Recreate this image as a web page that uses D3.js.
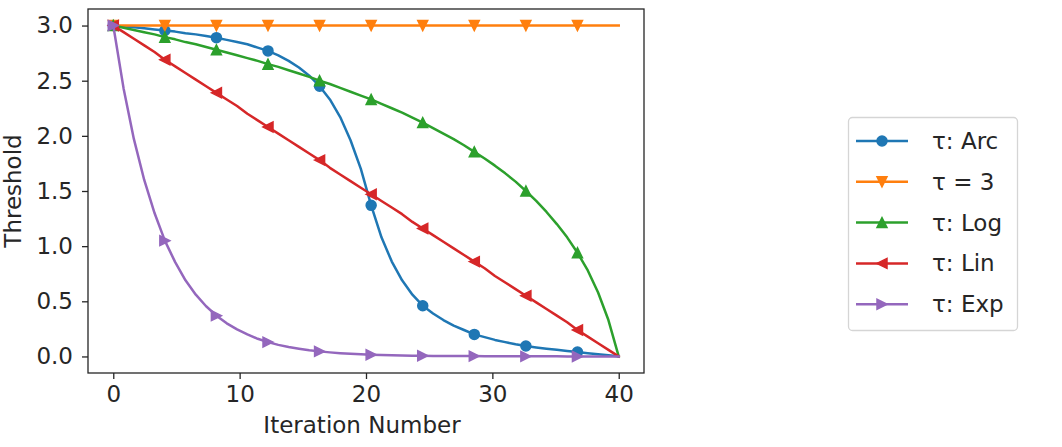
<!DOCTYPE html>
<html lang="en">
  <head>
    <meta charset="utf-8"/>
    <title>Threshold schedules</title>
    <script src="https://cdn.jsdelivr.net/npm/d3@7"></script>
    <style>
      body { margin: 0; background: #fff; }
      text { font-family: "DejaVu Sans", sans-serif; fill: #262626; }
    </style>
  </head>
  <body>
    <div id="chart"></div>
    <script type="text/javascript">

      // iteration numbers (50 samples from 0 to 40)
      var iterations = [0, 0.816, 1.633, 2.449, 3.265, 4.082, 4.898, 5.714, 6.531, 7.347,
        8.163, 8.980, 9.796, 10.612, 11.429, 12.245, 13.061, 13.878, 14.694, 15.510,
        16.327, 17.143, 17.959, 18.776, 19.592, 20.408, 21.224, 22.041, 22.857, 23.673,
        24.490, 25.306, 26.122, 26.939, 27.755, 28.571, 29.388, 30.204, 31.020, 31.837,
        32.653, 33.469, 34.286, 35.102, 35.918, 36.735, 37.551, 38.367, 39.184, 40];

      // threshold values
      var arcValues = [3.00, 2.99, 2.985, 2.975, 2.965, 2.955, 2.945, 2.93, 2.92, 2.905,
        2.89, 2.87, 2.85, 2.83, 2.80, 2.77, 2.73, 2.68, 2.62, 2.545,
        2.45, 2.33, 2.17, 1.96, 1.70, 1.37, 1.08, 0.86, 0.69, 0.56,
        0.46, 0.39, 0.33, 0.28, 0.24, 0.20, 0.175, 0.15, 0.13, 0.11,
        0.095, 0.082, 0.07, 0.06, 0.05, 0.04, 0.03, 0.02, 0.01, 0];
      var constValues = [3, 3, 3, 3, 3, 3, 3, 3, 3, 3, 3, 3, 3, 3, 3, 3, 3, 3, 3, 3, 3, 3, 3, 3, 3,
        3, 3, 3, 3, 3, 3, 3, 3, 3, 3, 3, 3, 3, 3, 3, 3, 3, 3, 3, 3, 3, 3, 3, 3, 3];
      var logValues = [3.00, 2.98, 2.96, 2.94, 2.92, 2.895, 2.875, 2.85, 2.83, 2.805,
        2.78, 2.755, 2.73, 2.705, 2.68, 2.65, 2.625, 2.595, 2.565, 2.535,
        2.50, 2.47, 2.435, 2.40, 2.365, 2.33, 2.29, 2.25, 2.21, 2.165,
        2.12, 2.07, 2.02, 1.97, 1.915, 1.855, 1.795, 1.73, 1.66, 1.585,
        1.50, 1.41, 1.31, 1.20, 1.08, 0.94, 0.78, 0.58, 0.33, 0];
      var linValues = [3.00, 2.94, 2.88, 2.82, 2.76, 2.69, 2.63, 2.57, 2.51, 2.45,
        2.39, 2.33, 2.27, 2.20, 2.14, 2.08, 2.02, 1.96, 1.90, 1.84,
        1.78, 1.71, 1.65, 1.59, 1.53, 1.47, 1.41, 1.35, 1.29, 1.22,
        1.16, 1.10, 1.04, 0.98, 0.92, 0.86, 0.80, 0.73, 0.67, 0.61,
        0.55, 0.49, 0.43, 0.37, 0.31, 0.24, 0.18, 0.12, 0.06, 0];
      var expValues = [3.00, 2.43, 1.97, 1.60, 1.30, 1.05, 0.855, 0.69, 0.56, 0.455,
        0.37, 0.30, 0.245, 0.20, 0.16, 0.13, 0.105, 0.086, 0.07, 0.056,
        0.046, 0.037, 0.03, 0.024, 0.02, 0.016, 0.013, 0.011, 0.009, 0.007,
        0.006, 0.005, 0.004, 0.004, 0.003, 0.003, 0.002, 0.002, 0.002, 0.001,
        0.001, 0.001, 0.001, 0.001, 0, 0, 0, 0, 0, 0];

      var seriesNames = ["\u03c4: Arc", "\u03c4 = 3", "\u03c4: Log", "\u03c4: Lin", "\u03c4: Exp"];
      var seriesValues = [arcValues, constValues, logValues, linValues, expValues];
      var seriesColours = ["#1f77b4", "#ff7f0e", "#2ca02c", "#d62728", "#9467bd"];
      var seriesMarkers = ["circle", "down", "up", "left", "right"];

      var xTicks = [0, 10, 20, 30, 40];
      var yTicks = [0, 0.5, 1, 1.5, 2, 2.5, 3];
      var markEvery = 5;

      var w = 1062;
      var h = 447;
      var plot = { left: 88, right: 644, top: 9, bottom: 373 };

      var svg = d3.select("#chart")
        .append("svg")
        .attr("width", w)
        .attr("height", h)
      ;

      var x = d3.scaleLinear().domain([-2, 42]).range([plot.left, plot.right]);
      var y = d3.scaleLinear().domain([-0.15, 3.15]).range([plot.bottom, plot.top]);

      // marker shapes, r is half the marker size
      function markerPath(kind, r) {
        if (kind == "circle") {
          return "M" + r + ",0A" + r + "," + r + " 0 1,1 " + (-r) + ",0A" + r + "," + r + " 0 1,1 " + r + ",0Z";
        }
        var pts;
        if (kind == "up") pts = [[0, -r], [-r, r], [r, r]];
        if (kind == "down") pts = [[0, r], [-r, -r], [r, -r]];
        if (kind == "left") pts = [[-r, 0], [r, -r], [r, r]];
        if (kind == "right") pts = [[r, 0], [-r, -r], [-r, r]];
        return "M" + pts.join("L") + "Z";
      }

      // axes
      svg.append("g")
        .attr("transform", "translate(0," + plot.bottom + ")")
        .call(d3.axisBottom(x).tickValues(xTicks).tickSize(6).tickPadding(7))
        .call(function(g) { g.select(".domain").remove(); })
        .call(function(g) { g.selectAll("line").attr("stroke", "#262626").attr("stroke-width", 1.3); })
        .call(function(g) { g.selectAll("text").attr("font-size", 23).attr("font-family", "DejaVu Sans").attr("fill", "#262626"); })
      ;
      svg.append("g")
        .attr("transform", "translate(" + plot.left + ",0)")
        .call(d3.axisLeft(y).tickValues(yTicks).tickFormat(d3.format(".1f")).tickSize(6).tickPadding(9))
        .call(function(g) { g.select(".domain").remove(); })
        .call(function(g) { g.selectAll("line").attr("stroke", "#262626").attr("stroke-width", 1.3); })
        .call(function(g) { g.selectAll("text").attr("font-size", 23).attr("font-family", "DejaVu Sans").attr("fill", "#262626"); })
      ;

      // clip lines to the plot box
      svg.append("clipPath").attr("id", "clip")
        .append("rect")
        .attr("x", plot.left).attr("y", plot.top)
        .attr("width", plot.right - plot.left).attr("height", plot.bottom - plot.top)
      ;

      var line = d3.line()
        .x(function(d) { return x(d[0]); })
        .y(function(d) { return y(d[1]); })
      ;

      var plotGroup = svg.append("g").attr("clip-path", "url(#clip)");

      seriesValues.forEach(function(values, s) {
        var pts = values.map(function(v, i) { return [iterations[i], v]; });
        plotGroup.append("path")
          .attr("d", line(pts))
          .attr("fill", "none")
          .attr("stroke", seriesColours[s])
          .attr("stroke-width", 2.5)
          .attr("stroke-linejoin", "round")
          .attr("stroke-linecap", "square")
        ;
        plotGroup.selectAll(".m" + s)
          .data(pts.filter(function(d, i) { return i % markEvery == 0; }))
          .enter()
          .append("path")
          .attr("class", "m" + s)
          .attr("transform", function(d) { return "translate(" + x(d[0]) + "," + y(d[1]) + ")"; })
          .attr("d", markerPath(seriesMarkers[s], 5))
          .attr("fill", seriesColours[s])
          .attr("stroke", seriesColours[s])
          .attr("stroke-width", 1.5)
        ;
      });

      // frame
      svg.append("rect")
        .attr("x", plot.left).attr("y", plot.top)
        .attr("width", plot.right - plot.left).attr("height", plot.bottom - plot.top)
        .attr("fill", "none")
        .attr("stroke", "#262626")
        .attr("stroke-width", 1.3)
      ;

      // axis labels
      svg.append("text")
        .attr("x", (plot.left + plot.right) / 2 - 4)
        .attr("y", 433)
        .attr("text-anchor", "middle")
        .attr("font-size", 23)
        .text("Iteration Number")
      ;
      svg.append("text")
        .attr("transform", "translate(21," + ((plot.top + plot.bottom) / 2) + ")rotate(-90)")
        .attr("text-anchor", "middle")
        .attr("font-size", 23)
        .text("Threshold")
      ;

      // legend
      var legend = svg.append("g").attr("transform", "translate(848,117)");
      legend.append("rect")
        .attr("x", 0.5).attr("y", 0.5)
        .attr("width", 169).attr("height", 213)
        .attr("rx", 4)
        .attr("fill", "#fff")
        .attr("stroke", "#d5d5d5")
        .attr("stroke-width", 1.3)
      ;
      seriesNames.forEach(function(name, s) {
        var ly = 24 + s * 40.8;
        legend.append("line")
          .attr("x1", 8).attr("x2", 60)
          .attr("y1", ly).attr("y2", ly)
          .attr("stroke", seriesColours[s])
          .attr("stroke-width", 2.5)
        ;
        legend.append("path")
          .attr("transform", "translate(34," + ly + ")")
          .attr("d", markerPath(seriesMarkers[s], 5))
          .attr("fill", seriesColours[s])
          .attr("stroke", seriesColours[s])
          .attr("stroke-width", 1.5)
        ;
        legend.append("text")
          .attr("x", 84)
          .attr("y", ly + 8)
          .attr("font-size", 23)
          .text(name)
        ;
      });
    </script>
  </body>
</html>
